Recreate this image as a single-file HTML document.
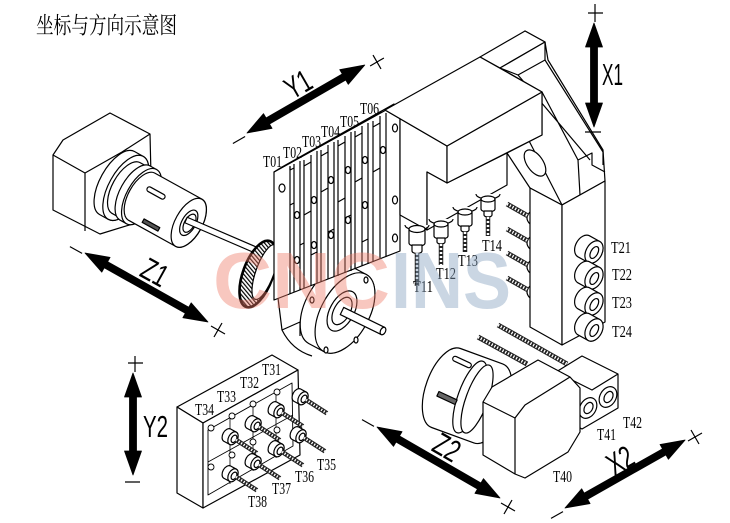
<!DOCTYPE html>
<html><head><meta charset="utf-8"><style>
html,body{margin:0;padding:0;background:#fff;}
svg{display:block;}
.t{font-family:"Liberation Serif",serif;font-size:17px;fill:#000;stroke:none;}
.ax{font-family:"Liberation Sans",sans-serif;font-size:31px;fill:#000;stroke:none;}
</style></head><body>
<svg width="730" height="523" viewBox="0 0 730 523" xmlns="http://www.w3.org/2000/svg">
<defs>
<pattern id="hatch" width="3" height="3" patternUnits="userSpaceOnUse" patternTransform="rotate(-60)">
<rect width="3" height="3" fill="#fff"/><line x1="0.6" y1="0" x2="0.6" y2="3" stroke="#000" stroke-width="1.2"/>
</pattern>
<g id="tool">
<path d="M3.4,-6.1 L9.4,-2.8 A4.5 7 29 0 1 2.6,9.4 L-3.4,6.1 A4.5 7 29 0 1 3.4,-6.1Z"/>
<ellipse cx="6" cy="3.3" rx="4.5" ry="7" transform="rotate(29 6 3.3)"/>
<ellipse cx="7" cy="3.8" rx="2.5" ry="4" transform="rotate(29 7 3.8)"/>
<line x1="9" y1="4.8" x2="30" y2="18.3" stroke="#222" stroke-width="4.5"/>
<line x1="9" y1="4.8" x2="30" y2="18.3" stroke="#fff" stroke-width="2.5" stroke-dasharray="1.3 1.7"/>
</g>
<g id="cyl">
<path d="M-4.7,-16.3 L5.8,-10.5 A8 12 29 0 1 -5.8,10.5 L-16.3,4.7 A8 12 29 0 1 -4.7,-16.3Z"/>
<ellipse cx="0" cy="0" rx="8" ry="12" transform="rotate(29)"/>
<ellipse cx="0.5" cy="0.3" rx="3.5" ry="6.5" transform="rotate(29)"/>
</g>
</defs>
<rect width="730" height="523" fill="#fff"/>

<!-- title -->
<text x="36" y="33" font-family="'Liberation Serif','Noto Serif CJK SC',serif" font-size="23" textLength="141" lengthAdjust="spacingAndGlyphs" fill="#000">坐标与方向示意图</text>

<g fill="#fff" stroke="#000" stroke-width="1.2" stroke-linejoin="round">

<!-- ===== Left spindle ===== -->
<polygon points="53,155 63,140 110,113 150,134 152,218 100,234 53,210"/>
<polyline points="53,155 85,173 85,231" fill="none"/>
<polyline points="85,173 122,152 150,134" fill="none"/>
<path d="M134.5,151.5 L143.2,156.4 A17 36 29 0 1 108.3,219.4 L99.5,214.5 A17 36 29 0 1 134.5,151.5Z"/>
<ellipse cx="125.75" cy="187.85" rx="17" ry="36" transform="rotate(29 125.75 187.85)"/>
<path d="M139.8,162.5 L148.6,167.3 A14 29 29 0 1 120.4,218.1 L111.7,213.2 A14 29 29 0 1 139.8,162.5Z"/>
<ellipse cx="134.5" cy="192.7" rx="14" ry="29" transform="rotate(29 134.5 192.7)"/>
<path d="M149.5,165.6 L156.5,169.5 A15 31 29 0 1 126.5,223.7 L119.5,219.8 A15 31 29 0 1 149.5,165.6Z"/>
<ellipse cx="141.5" cy="196.6" rx="15" ry="31" transform="rotate(29 141.5 196.6)"/>
<path d="M154.6,173 L201.9,199.1 A13.5 27 29 0 1 175.7,246.4 L128.4,220.2 A13.5 27 29 0 1 154.6,173Z"/>
<ellipse cx="188.75" cy="222.8" rx="13.5" ry="27" transform="rotate(29 188.75 222.8)"/>
<ellipse cx="188.75" cy="222.8" rx="7" ry="14" transform="rotate(29 188.75 222.8)"/>
<ellipse cx="189.5" cy="223.2" rx="5" ry="10" transform="rotate(29 189.5 223.2)"/>
<rect x="-10" y="-2.5" width="20" height="5" rx="2.5" transform="translate(156,193) rotate(29)"/>
<rect x="-9" y="-2" width="18" height="4" fill="#555" transform="translate(151,225) rotate(29)"/>
<polygon points="187.2,217.25 259.2,248.25 256.8,253.75 184.8,222.75"/>

<!-- gear -->
<ellipse cx="258" cy="274" rx="15" ry="35" transform="rotate(20 258 274)" fill="url(#hatch)" stroke-width="2.6"/>
<ellipse cx="265" cy="272" rx="9" ry="29" transform="rotate(20 265 272)"/>

<!-- sub-spindle disc -->
<path d="M278,298 L282,330 Q292,350 312,356" fill="none"/>
<path d="M282,330 L300,322 L300,336" fill="none"/>
<path d="M351.3,266.5 L366.3,274.5 A24 44 29 0 1 323.7,351.5 L308.7,343.5 A24 44 29 0 1 351.3,266.5Z"/>
<ellipse cx="345" cy="313" rx="24" ry="44" transform="rotate(29 345 313)"/>
<ellipse cx="342" cy="311" rx="12" ry="22" transform="rotate(29 342 311)"/>
<ellipse cx="342" cy="311" rx="8" ry="15" transform="rotate(29 342 311)"/>
<ellipse cx="366" cy="280" rx="2" ry="3"/>
<ellipse cx="356" cy="340" rx="2" ry="3"/>
<ellipse cx="326" cy="350" rx="2" ry="3"/>
<ellipse cx="312" cy="300" rx="2" ry="3"/>
<polygon points="343.75,307.4 384.75,327.4 381.25,334.6 340.25,314.6"/>
<ellipse cx="383" cy="331" rx="2.5" ry="4" transform="rotate(26 383 331)"/>

<!-- ===== Gang block T01-T06 ===== -->
<polygon points="274,172 388,108.6 400,115 400,251 274,300"/>
<polygon points="274,172 282,167 394,104 386,110"/>
<line x1="290" y1="167" x2="290" y2="294"/>
<g fill="none">
<path d="M294,164 V292 M300,161 V290 M290,166 V170 L294,168 M290,205 L294,203 M300,245 L304,243"/>
<path d="M311,155 V286 M317,151 V283 M304,160 V166 L311,162 M304,166 V288 M304,215 L311,211 M311,255 L317,252"/>
<path d="M328,145 V279 M334,142 V277 M321,150 V156 L328,152 M321,156 V282 M321,192 L328,188 M328,232 L334,229"/>
<path d="M345,136 V273 M351,132 V271 M338,140 V146 L345,142 M338,146 V276 M338,202 L345,198 M345,218 L351,215"/>
<path d="M362,126 V266 M368,123 V264 M355,131 V137 L362,133 M355,137 V269 M355,182 L362,178 M362,242 L368,239"/>
<path d="M380,116 V259 M386,113 V257 M373,121 V127 L380,123 M373,127 V262 M373,172 L380,168"/>
</g>
<ellipse cx="282" cy="188" rx="3" ry="4"/>
<ellipse cx="297" cy="215" rx="2.5" ry="3.5"/><ellipse cx="297" cy="260" rx="2.5" ry="3.5"/>
<ellipse cx="314" cy="200" rx="2.5" ry="3.5"/><ellipse cx="314" cy="245" rx="2.5" ry="3.5"/>
<ellipse cx="331" cy="180" rx="2.5" ry="3.5"/><ellipse cx="331" cy="235" rx="2.5" ry="3.5"/>
<ellipse cx="348" cy="170" rx="2.5" ry="3.5"/><ellipse cx="348" cy="220" rx="2.5" ry="3.5"/>
<ellipse cx="365" cy="160" rx="2.5" ry="3.5"/><ellipse cx="365" cy="205" rx="2.5" ry="3.5"/>
<ellipse cx="383" cy="150" rx="2.5" ry="3.5"/>
<ellipse cx="395" cy="128" rx="2.5" ry="4"/><ellipse cx="395" cy="200" rx="2.5" ry="4"/><ellipse cx="395" cy="238" rx="2.5" ry="4"/>

<!-- ===== Bracket / column ===== -->
<polygon points="500,68 525,31 545,42 548,60 603,150 605,181 562,205 530,188 507,153 542,135 542,92"/>
<polygon points="480,57 525,31 545,42 500,68"/>
<polygon points="500,68 545,42 545,60 518,75"/>
<g fill="none">
<path d="M518,75 L590,160 M545,60 L603,152 L603,165 M542,92 L578,160 L592,153 L592,165 L605,172 M525,133 L562,205 M578,160 L580,195 L562,205"/>
</g>
<ellipse cx="535" cy="163" rx="8" ry="15" transform="rotate(-35 535 163)"/>
<polygon points="530,188 562,205 562,345 530,327"/>
<polygon points="562,205 605,181 605,322 562,345"/>
<path d="M530,212 q-6,6 0,12 M530,237 q-6,6 0,12 M530,261 q-6,6 0,12 M530,286 q-6,6 0,12" fill="none"/>
<use href="#cyl" x="594" y="252"/>
<use href="#cyl" x="594" y="278"/>
<use href="#cyl" x="594" y="304"/>
<use href="#cyl" x="594" y="330"/>
<g fill="none">
<path d="M507,204 L528,216 M507,229 L528,241 M507,253 L528,265 M507,278 L528,290 M498,325 L567,364 M478,337 L527,364" stroke="#222" stroke-width="5"/>
<path d="M507,204 L528,216 M507,229 L528,241 M507,253 L528,265 M507,278 L528,290 M498,325 L567,364 M478,337 L527,364" stroke="#fff" stroke-width="3" stroke-dasharray="1.3 1.8"/>
</g>

<!-- ===== Head ===== -->
<polygon points="385,110 447,146 447,183 427,172 427,230 400,215 400,118"/>
<polygon points="427,172 447,183 507,153 507,185 427,230"/>
<polygon points="447,146 542,92 542,135 447,183"/>
<polygon points="385,110 480,57 542,92 447,146"/>
<!-- spindle collars & noses -->
<g>
<path d="M405,225 A12 5 0 0 0 429,225"/>
<path d="M429,219 A12 5 0 0 0 453,219"/>
<path d="M453,207 A12 5 0 0 0 477,207"/>
<path d="M476,194 A12 5 0 0 0 500,194"/>
<path d="M409,229 L409,243 A8 3.5 0 0 0 425,243 L425,229Z"/><ellipse cx="417" cy="229" rx="8" ry="3.5"/>
<path d="M412,245 L412,251 A5 2.5 0 0 0 422,251 L422,245Z"/>
<path d="M434,224 L434,236 A7 3 0 0 0 448,236 L448,224Z"/><ellipse cx="441" cy="224" rx="7" ry="3"/>
<path d="M437,238 L437,242 A4 2 0 0 0 445,242 L445,238Z"/>
<path d="M458,212 L458,224 A7 3 0 0 0 472,224 L472,212Z"/><ellipse cx="465" cy="212" rx="7" ry="3"/>
<path d="M461,226 L461,230 A4 2 0 0 0 469,230 L469,226Z"/>
<path d="M481,199 L481,209 A7 3 0 0 0 495,209 L495,199Z"/><ellipse cx="488" cy="199" rx="7" ry="3"/>
<path d="M484,211 L484,215 A4 2 0 0 0 492,215 L492,211Z"/>
</g>
<g fill="none">
<path d="M417,253 V286 M441,244 V265 M465,232 V252 M488,217 V236" stroke="#222" stroke-width="4.5"/>
<path d="M417,253 V286 M441,244 V265 M465,232 V252 M488,217 V236" stroke="#fff" stroke-width="2.5" stroke-dasharray="2 2"/>
</g>

<!-- ===== Turret T40 area ===== -->
<path d="M460.4,348.5 L502.7,363.9 A20 42 20 0 1 473.9,442.9 L431.6,427.5 A20 42 20 0 1 460.4,348.5Z"/>
<ellipse cx="470" cy="397" rx="12" ry="38" transform="rotate(20 470 397)"/>
<ellipse cx="477" cy="399" rx="11" ry="36" transform="rotate(20 477 399)"/>
<rect x="-10" y="-2.5" width="20" height="5" rx="2.5" transform="translate(462,362) rotate(25)"/>
<rect x="-10" y="-2.5" width="20" height="5" fill="#666" transform="translate(447,398) rotate(25)"/>
<polygon points="556,372 582,356 618,374 618,408 582,429 566,420"/>
<polyline points="556,372 592,390 618,374" fill="none"/>
<ellipse cx="588" cy="408" rx="8" ry="11" transform="rotate(30 588 408)"/>
<ellipse cx="588.5" cy="408" rx="4" ry="6" transform="rotate(30 588.5 408)"/>
<ellipse cx="608" cy="397" rx="8" ry="11" transform="rotate(30 608 397)"/>
<ellipse cx="608.5" cy="397" rx="4" ry="6" transform="rotate(30 608.5 397)"/>
<polygon points="483,402 492,387 538,360 570,377 580,388 580,432 568,452 525,478 515,474 483,455"/>
<polyline points="483,402 515,418 525,405 570,377" fill="none"/>
<line x1="515" y1="418" x2="515" y2="474"/>

<!-- ===== Y2 block ===== -->
<polygon points="177,407 272,355 298,370 203,423"/>
<polygon points="177,407 203,423 203,508 177,493"/>
<polygon points="203,423 298,370 300,455 203,508"/>
<polygon points="208,430 292,383 293,446 208,495" stroke-width="0.9"/>
<path d="M230,418 V484 M253,405 V471 M276,392 V458 M208,462 L293,415" fill="none" stroke-width="0.8"/>
<g stroke-width="0.9">
<circle cx="277" cy="392" r="3"/><circle cx="253" cy="404" r="3"/><circle cx="232" cy="416" r="3"/><circle cx="211" cy="428" r="3"/>
<circle cx="277" cy="430" r="3"/><circle cx="253" cy="442" r="3"/><circle cx="232" cy="455" r="3"/><circle cx="211" cy="467" r="3"/>
</g>
<use href="#tool" x="297" y="395"/>
<use href="#tool" x="273" y="408"/>
<use href="#tool" x="250" y="422"/>
<use href="#tool" x="227" y="435"/>
<use href="#tool" x="295" y="433"/>
<use href="#tool" x="273" y="447"/>
<use href="#tool" x="250" y="460"/>
<use href="#tool" x="227" y="472"/>
</g>

<!-- ===== Arrows ===== -->
<g fill="#000" stroke="#000" stroke-width="0.8" stroke-linejoin="round">
<polygon transform="translate(594,23) rotate(90)" points="0,0 24,-8.5 24,-3.5 80,-3.5 80,-8.5 104,0 80,8.5 80,3.5 24,3.5 24,8.5"/>
<polygon transform="translate(133,373) rotate(90)" points="0,0 24,-8.5 24,-3.5 78,-3.5 78,-8.5 102,0 78,8.5 78,3.5 24,3.5 24,8.5"/>
<polygon transform="translate(247,133) rotate(-30)" points="0,0 24,-8.5 24,-3.5 112,-3.5 112,-8.5 136,0 112,8.5 112,3.5 24,3.5 24,8.5"/>
<polygon transform="translate(85,253) rotate(29.3)" points="0,0 24,-8.5 24,-3.5 117,-3.5 117,-8.5 141,0 117,8.5 117,3.5 24,3.5 24,8.5"/>
<polygon transform="translate(377,427) rotate(30)" points="0,0 24,-8.5 24,-3.5 118,-3.5 118,-8.5 142,0 118,8.5 118,3.5 24,3.5 24,8.5"/>
<polygon transform="translate(565,508) rotate(-29.5)" points="0,0 24,-8.5 24,-3.5 114,-3.5 114,-8.5 138,0 114,8.5 114,3.5 24,3.5 24,8.5"/>
</g>
<g stroke="#000" stroke-width="1.2" fill="none">
<path d="M595,4 V22 M588,13 H603 M585,132 H601"/>
<path d="M135,356 V372 M128,363 H143 M125,482 H140"/>
<path d="M370.1,66 L383.9,58 M373,55.1 L381,68.9 M232.9,143.5 L245.1,136.5"/>
<path d="M69.9,246.6 L82.1,253.4 M211,326 L225,334 M222,323 L214,337"/>
<path d="M362,419.6 L374,426.4 M501,503 L515,511 M512,500 L504,514"/>
<path d="M688,441 L702,433 M691,430 L699,444 M551,518.4 L563,511.6"/>
</g>

<!-- axis labels -->
<text class="ax" x="602" y="85" textLength="21" lengthAdjust="spacingAndGlyphs">X1</text>
<text class="ax" x="143" y="437" textLength="25" lengthAdjust="spacingAndGlyphs">Y2</text>
<text class="ax" transform="translate(298,84) rotate(-30)" x="-13" y="11" textLength="26" lengthAdjust="spacingAndGlyphs">Y1</text>
<text class="ax" transform="translate(155,272) rotate(29)" x="-13" y="11" textLength="26" lengthAdjust="spacingAndGlyphs">Z1</text>
<text class="ax" transform="translate(447,447) rotate(30)" x="-13" y="11" textLength="26" lengthAdjust="spacingAndGlyphs">Z2</text>
<text class="ax" transform="translate(620,460) rotate(-30)" x="-13" y="11" textLength="26" lengthAdjust="spacingAndGlyphs">X2</text>

<!-- tool labels -->
<g>
<text class="t" x="263" y="167" textLength="19" lengthAdjust="spacingAndGlyphs">T01</text>
<text class="t" x="283" y="158" textLength="19" lengthAdjust="spacingAndGlyphs">T02</text>
<text class="t" x="302" y="147" textLength="19" lengthAdjust="spacingAndGlyphs">T03</text>
<text class="t" x="321" y="137" textLength="19" lengthAdjust="spacingAndGlyphs">T04</text>
<text class="t" x="340" y="127" textLength="19" lengthAdjust="spacingAndGlyphs">T05</text>
<text class="t" x="360" y="114" textLength="19" lengthAdjust="spacingAndGlyphs">T06</text>
<text class="t" x="413" y="292" textLength="20" lengthAdjust="spacingAndGlyphs">T11</text>
<text class="t" x="436" y="279" textLength="20" lengthAdjust="spacingAndGlyphs">T12</text>
<text class="t" x="458" y="266" textLength="20" lengthAdjust="spacingAndGlyphs">T13</text>
<text class="t" x="482" y="251" textLength="20" lengthAdjust="spacingAndGlyphs">T14</text>
<text class="t" x="611" y="253" textLength="20" lengthAdjust="spacingAndGlyphs">T21</text>
<text class="t" x="612" y="280" textLength="20" lengthAdjust="spacingAndGlyphs">T22</text>
<text class="t" x="612" y="308" textLength="20" lengthAdjust="spacingAndGlyphs">T23</text>
<text class="t" x="612" y="337" textLength="20" lengthAdjust="spacingAndGlyphs">T24</text>
<text class="t" x="262" y="375" textLength="19" lengthAdjust="spacingAndGlyphs">T31</text>
<text class="t" x="240" y="388" textLength="19" lengthAdjust="spacingAndGlyphs">T32</text>
<text class="t" x="217" y="402" textLength="19" lengthAdjust="spacingAndGlyphs">T33</text>
<text class="t" x="195" y="415" textLength="19" lengthAdjust="spacingAndGlyphs">T34</text>
<text class="t" x="317" y="470" textLength="19" lengthAdjust="spacingAndGlyphs">T35</text>
<text class="t" x="295" y="482" textLength="19" lengthAdjust="spacingAndGlyphs">T36</text>
<text class="t" x="272" y="494" textLength="19" lengthAdjust="spacingAndGlyphs">T37</text>
<text class="t" x="248" y="507" textLength="19" lengthAdjust="spacingAndGlyphs">T38</text>
<text class="t" x="553" y="482" textLength="19" lengthAdjust="spacingAndGlyphs">T40</text>
<text class="t" x="597" y="440" textLength="19" lengthAdjust="spacingAndGlyphs">T41</text>
<text class="t" x="623" y="428" textLength="19" lengthAdjust="spacingAndGlyphs">T42</text>
</g>

<!-- watermark -->
<text x="213" y="308" font-family="'Liberation Sans',sans-serif" font-weight="bold" font-size="80" textLength="177" lengthAdjust="spacingAndGlyphs" fill="#ee7a66" fill-opacity="0.42">CNC</text>
<text x="391" y="308" font-family="'Liberation Sans',sans-serif" font-weight="bold" font-size="80" textLength="120" lengthAdjust="spacingAndGlyphs" fill="#8ca5c3" fill-opacity="0.46">INS</text>
</svg>
</body></html>
